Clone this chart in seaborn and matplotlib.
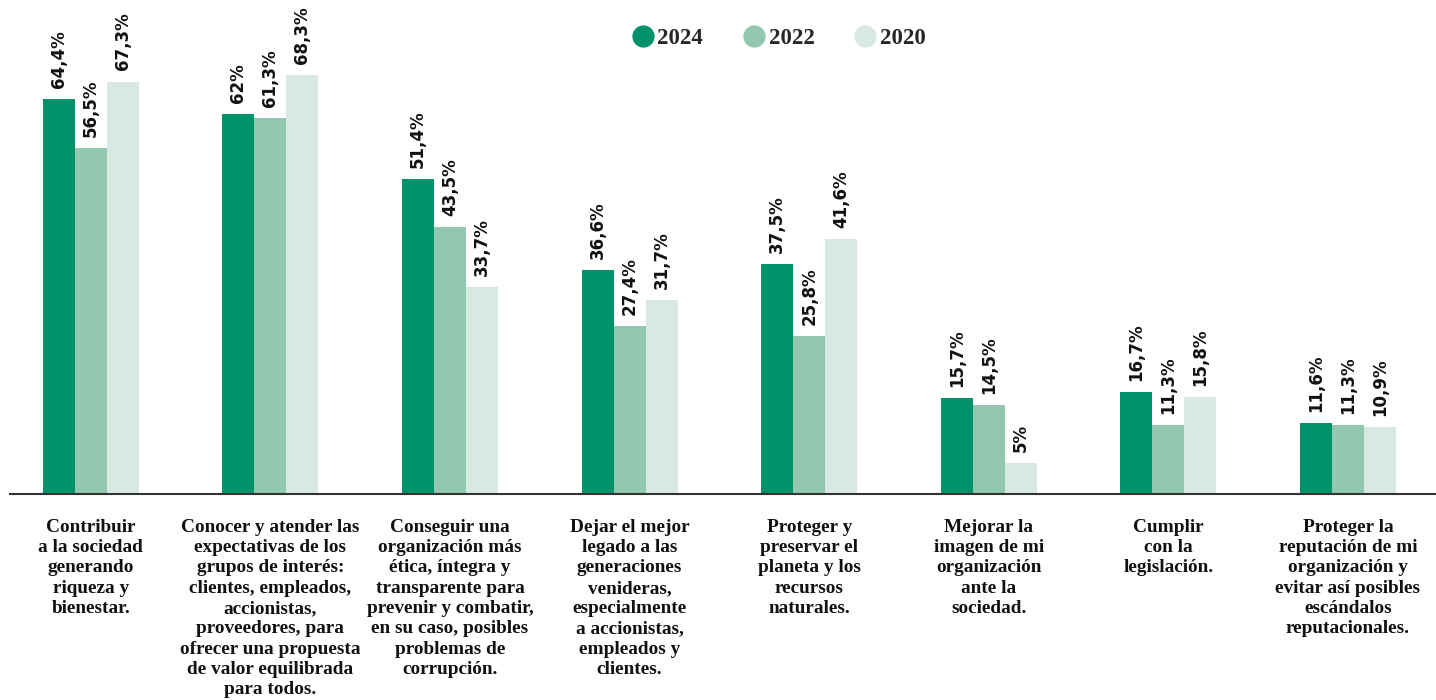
import matplotlib
matplotlib.use("Agg")
import matplotlib.pyplot as plt
from matplotlib.lines import Line2D
import pandas as pd
import seaborn as sns

# Categories (as wrapped in the original chart)
categories = [
    "Contribuir\na la sociedad\ngenerando\nriqueza y\nbienestar.",
    "Conocer y atender las\nexpectativas de los\ngrupos de interés:\nclientes, empleados,\naccionistas,\nproveedores, para\nofrecer una propuesta\nde valor equilibrada\npara todos.",
    "Conseguir una\norganización más\nética, íntegra y\ntransparente para\nprevenir y combatir,\nen su caso, posibles\nproblemas de\ncorrupción.",
    "Dejar el mejor\nlegado a las\ngeneraciones\nvenideras,\nespecialmente\na accionistas,\nempleados y\nclientes.",
    "Proteger y\npreservar el\nplaneta y los\nrecursos\nnaturales.",
    "Mejorar la\nimagen de mi\norganización\nante la\nsociedad.",
    "Cumplir\ncon la\nlegislación.",
    "Proteger la\nreputación de mi\norganización y\nevitar así posibles\nescándalos\nreputacionales.",
]
years = ["2024", "2022", "2020"]
values_2024 = [64.4, 62.0, 51.4, 36.6, 37.5, 15.7, 16.7, 11.6]
values_2022 = [56.5, 61.3, 43.5, 27.4, 25.8, 14.5, 11.3, 11.3]
values_2020 = [67.3, 68.3, 33.7, 31.7, 41.6, 5.0, 15.8, 10.9]
colors = ["#00936B", "#93C7B0", "#D8E9E2"]

df = pd.DataFrame({
    "categoria": categories * 3,
    "año": [y for y in years for _ in categories],
    "valor": values_2024 + values_2022 + values_2020,
})

sns.set_theme(style="white")
serif = ["Liberation Serif", "DejaVu Serif"]
sans = ["DejaVu Sans"]

fig = plt.figure(figsize=(14.36, 7.0), dpi=100)
ax = fig.add_axes([10 / 1436, 1 - 494 / 700, 1 - 10 / 1436, 494 / 700])

sns.barplot(data=df, x="categoria", y="valor", hue="año", hue_order=years,
            order=categories, palette=colors, width=0.535, saturation=1,
            linewidth=0, edgecolor="none", legend=False, ax=ax)

for cont in ax.containers:
    labels = [f"{b.get_height():g}".replace(".", ",") + "%" for b in cont]
    ax.bar_label(cont, labels=labels, rotation=90, padding=8,
                 fontsize=12, fontweight="bold", family=sans, color="#111111")

ax.set_xlim(-0.45, 7.49)
ax.set_ylim(0, 80.6)
ax.set_xlabel("")
ax.set_ylabel("")
ax.set_yticks([])
ax.tick_params(axis="x", length=0, pad=18)
for lbl in ax.get_xticklabels():
    lbl.set_family(serif)
    lbl.set_fontweight("bold")
    lbl.set_fontsize(13.9)
    lbl.set_color("#111111")
    lbl.set_linespacing(1.25)
    lbl.set_verticalalignment("top")

for s in ["top", "left", "right"]:
    ax.spines[s].set_visible(False)
ax.spines["bottom"].set_color("#333333")
ax.spines["bottom"].set_linewidth(1.5)

handles = [Line2D([0], [0], marker="o", linestyle="", markersize=15,
                  markerfacecolor=c, markeredgecolor=c) for c in colors]
leg = fig.legend(handles, years, loc="center", bbox_to_anchor=(0.5428, 0.9457),
                 ncol=3, frameon=False, handlelength=0.8, handletextpad=0.25,
                 columnspacing=1.8,
                 prop={"family": serif, "weight": "bold", "size": 16.5})

fig.savefig("out.png", dpi=100)
